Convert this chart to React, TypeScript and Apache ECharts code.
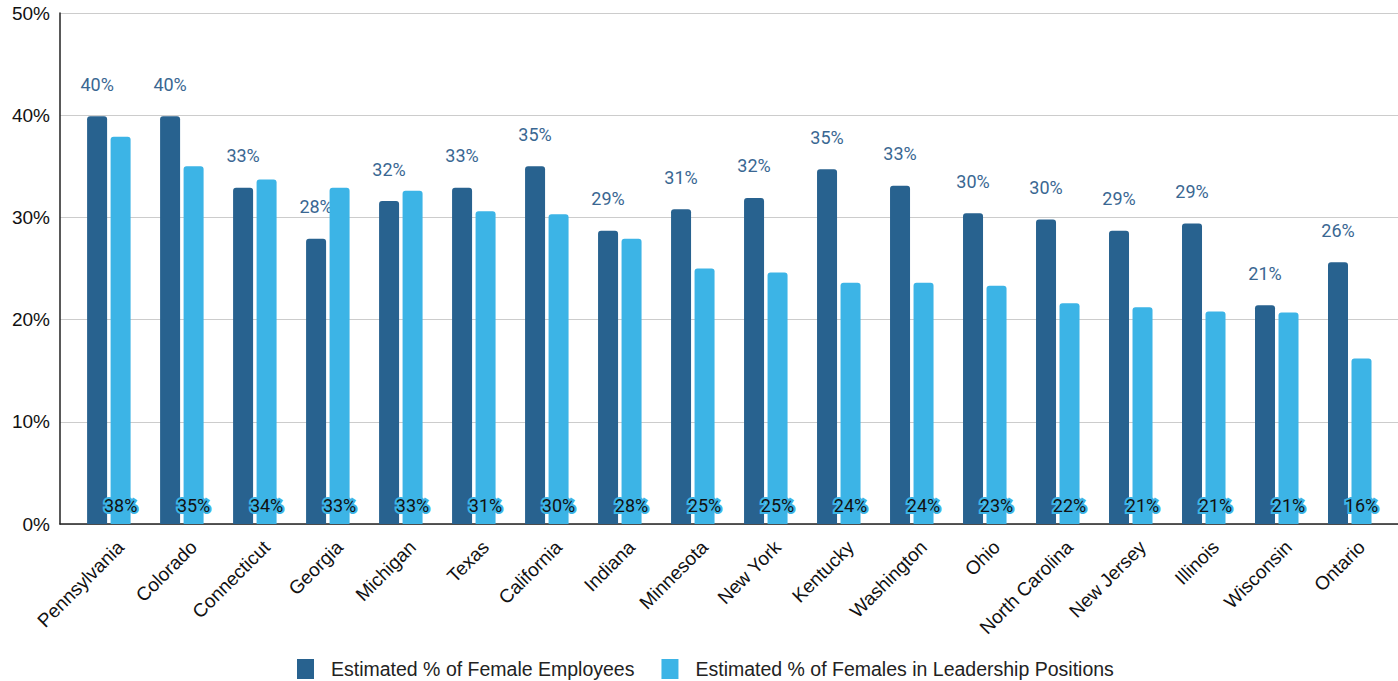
import React, { useEffect, useRef } from "react";
import * as echarts from "echarts";

const categories = [
  "Pennsylvania", "Colorado", "Connecticut", "Georgia", "Michigan", "Texas",
  "California", "Indiana", "Minnesota", "New York", "Kentucky", "Washington",
  "Ohio", "North Carolina", "New Jersey", "Illinois", "Wisconsin", "Ontario",
];
const femaleEmployees = [
  39.9, 39.9, 32.9, 27.9, 31.6, 32.9, 35.0, 28.7, 30.8, 31.9, 34.7, 33.1,
  30.4, 29.8, 28.7, 29.4, 21.4, 25.6,
];
const femaleLeadership = [
  37.9, 35.0, 33.7, 32.9, 32.6, 30.6, 30.3, 27.9, 25.0, 24.6, 23.6, 23.6,
  23.3, 21.6, 21.2, 20.8, 20.7, 16.2,
];
const seriesNames = [
  "Estimated % of Female Employees",
  "Estimated % of Females in Leadership Positions",
];
const yMin = 0;
const yMax = 50;
const yInterval = 10;

const DARK = "#28628f";
const LIGHT = "#3cb4e6";
const AXIS_FONT = "'Liberation Sans', Arial, sans-serif";
const LABEL_FONT = "Roboto, 'Noto Sans', sans-serif";

export default function App() {
  const ref = useRef<HTMLDivElement>(null);

  useEffect(() => {
    document.body.style.margin = "0";
    if (!ref.current) return;
    const chart = echarts.init(ref.current, undefined, { renderer: "svg" });
    const pct = (p: any) => Math.round(p.value) + "%";
    chart.setOption({
      animation: false,
      backgroundColor: "#ffffff",
      grid: [
        { left: 60, right: 0, top: 13, bottom: 157 },
        { left: 84.1, right: -4.1, top: 13, bottom: 157 },
      ],
      xAxis: [
        {
          gridIndex: 0,
          type: "value",
          min: 0,
          max: 1,
          axisLine: { show: true, lineStyle: { color: "#222", width: 1.5 } },
          axisTick: { show: false },
          axisLabel: { show: false },
          splitLine: { show: false },
        },
        {
          gridIndex: 1,
          type: "category",
          data: categories,
          axisLine: { show: false },
          axisTick: { show: false },
          axisLabel: {
            rotate: 45,
            interval: 0,
            margin: 20,
            color: "#111",
            fontSize: 19,
            fontFamily: AXIS_FONT,
          },
        },
      ],
      yAxis: [
        {
          gridIndex: 0,
          type: "value",
          min: yMin,
          max: yMax,
          interval: yInterval,
          axisLine: { show: true, lineStyle: { color: "#222", width: 1.5 } },
          axisTick: { show: false },
          axisLabel: {
            formatter: "{value}%",
            color: "#111",
            fontSize: 19,
            margin: 10,
            fontFamily: AXIS_FONT,
          },
          splitLine: { show: true, lineStyle: { color: "#cccccc", width: 1 } },
        },
        {
          gridIndex: 1,
          type: "value",
          min: yMin,
          max: yMax,
          interval: yInterval,
          show: false,
          splitLine: { show: false },
        },
      ],
      legend: {
        data: seriesNames,
        left: 297,
        top: 659,
        padding: 0,
        icon: "rect",
        itemWidth: 17,
        itemHeight: 20,
        itemGap: 27,
        textStyle: {
          fontSize: 19.5,
          color: "#222",
          fontFamily: AXIS_FONT,
          padding: [0, 0, 0, 12],
        },
      },
      series: [
        {
          name: seriesNames[0],
          type: "bar",
          xAxisIndex: 1,
          yAxisIndex: 1,
          data: femaleEmployees,
          barWidth: 20,
          barGap: "17.5%",
          itemStyle: { color: DARK, borderRadius: [3, 3, 0, 0] },
          label: {
            show: true,
            position: "top",
            distance: 23,
            formatter: pct,
            color: "#3a6792",
            fontSize: 18,
            fontFamily: LABEL_FONT,
            textBorderColor: "#ffffff",
            textBorderWidth: 3,
          },
        },
        {
          name: seriesNames[1],
          type: "bar",
          xAxisIndex: 1,
          yAxisIndex: 1,
          data: femaleLeadership,
          barWidth: 20,
          barGap: "17.5%",
          itemStyle: { color: LIGHT, borderRadius: [3, 3, 0, 0] },
          label: {
            show: true,
            position: "insideBottom",
            distance: 10,
            formatter: pct,
            color: "#111",
            fontSize: 18,
            fontFamily: LABEL_FONT,
            textBorderColor: LIGHT,
            textBorderWidth: 4,
          },
          z: 3,
        },
        {
          name: "_pad",
          type: "bar",
          xAxisIndex: 1,
          yAxisIndex: 1,
          data: categories.map(() => null),
          barWidth: 20,
          barGap: "17.5%",
          itemStyle: { opacity: 0 },
          silent: true,
        },
      ],
    });
    return () => chart.dispose();
  }, []);

  return <div ref={ref} style={{ width: 1398, height: 681 }} />;
}
